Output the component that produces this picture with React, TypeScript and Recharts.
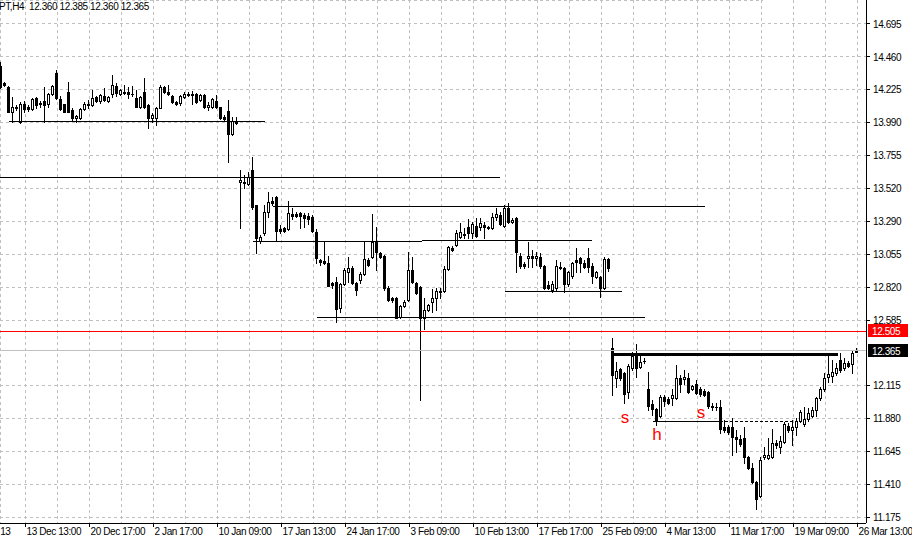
import React from 'react';
import {
  ComposedChart,
  Bar,
  XAxis,
  YAxis,
  CartesianGrid,
  ReferenceLine,
  ReferenceDot
} from 'recharts';

// H4 candles (oldest first)
const opens = [
  14.396, 14.274, 14.246, 14.068, 14.103, 13.996, 14.125, 14.103, 14.089, 14.167,
  14.132, 14.146, 14.125, 14.196, 14.346, 14.160, 14.125, 14.210, 14.082, 14.025,
  14.025, 14.089, 14.125, 14.118, 14.175, 14.146, 14.182, 14.146, 14.196, 14.253,
  14.196, 14.210, 14.210, 14.196, 14.167, 14.103, 14.210, 14.118, 14.025, 14.025,
  14.096, 14.246, 14.210, 14.182, 14.139, 14.132, 14.175, 14.196, 14.196, 14.196,
  14.153, 14.189, 14.103, 14.103, 14.146, 14.103, 14.032, 14.075, 13.911, 14.003,
  13.569, 13.569, 13.554, 13.654, 13.405, 13.148, 13.205, 13.355, 13.433, 13.462,
  13.234, 13.241, 13.234, 13.341, 13.341, 13.348, 13.333, 13.326, 13.319, 13.212,
  13.013, 13.006, 12.991, 12.849, 12.856, 12.670, 12.842, 12.927, 12.956, 12.849,
  12.870, 12.913, 13.013, 13.034, 13.141, 13.063, 13.041, 12.813, 12.742, 12.742,
  12.606, 12.685, 12.728, 12.941, 12.849, 12.820, 12.599, 12.656, 12.713, 12.742,
  12.785, 12.792, 12.949, 13.098, 13.120, 13.177, 13.198, 13.248, 13.205, 13.255,
  13.248, 13.262, 13.248, 13.241, 13.319, 13.333, 13.255, 13.383, 13.284, 13.312,
  13.041, 12.984, 13.027, 13.041, 13.027, 13.034, 12.970, 12.835, 12.799, 12.813,
  12.963, 12.956, 12.842, 12.899, 13.013, 13.027, 12.991, 13.027, 12.970, 12.892,
  12.892, 12.813, 13.020, 12.385, 12.172, 12.236, 12.207, 12.072, 12.243, 12.329,
  12.250, 12.293, 12.093, 11.986, 11.951, 11.901, 12.036, 12.022, 12.029, 12.029,
  12.172, 12.164, 12.172, 12.093, 12.129, 12.093, 12.079, 12.072, 11.972, 11.965,
  11.965, 11.822, 11.822, 11.822, 11.751, 11.737, 11.744, 11.609, 11.530, 11.430,
  11.330, 11.609, 11.601, 11.609, 11.708, 11.680, 11.715, 11.829, 11.801, 11.822,
  11.865, 11.844, 11.879, 11.901, 11.943, 12.029, 12.093, 12.179, 12.186, 12.207,
  12.300, 12.243, 12.279, 12.271, 12.360
];

const highs = [
  14.424, 14.282, 14.250, 14.175, 14.118, 14.139, 14.146, 14.118, 14.167, 14.175,
  14.146, 14.246, 14.203, 14.260, 14.367, 14.182, 14.128, 14.282, 14.096, 14.046,
  14.096, 14.139, 14.153, 14.225, 14.182, 14.196, 14.239, 14.182, 14.331, 14.274,
  14.232, 14.260, 14.246, 14.253, 14.225, 14.182, 14.310, 14.125, 14.061, 14.103,
  14.260, 14.253, 14.260, 14.189, 14.146, 14.189, 14.210, 14.210, 14.217, 14.203,
  14.196, 14.196, 14.139, 14.167, 14.189, 14.106, 14.046, 14.153, 14.032, 14.032,
  13.654, 13.619, 13.640, 13.747, 13.408, 13.191, 13.405, 13.497, 13.462, 13.469,
  13.262, 13.248, 13.433, 13.383, 13.355, 13.355, 13.348, 13.348, 13.333, 13.234,
  13.020, 13.148, 13.041, 12.856, 12.892, 12.849, 12.956, 13.034, 12.970, 12.856,
  12.927, 13.141, 13.027, 13.341, 13.248, 13.070, 13.048, 12.827, 12.749, 12.749,
  12.692, 12.728, 13.070, 13.034, 12.856, 12.827, 12.742, 12.699, 12.806, 12.813,
  12.813, 12.970, 13.113, 13.113, 13.226, 13.276, 13.241, 13.305, 13.284, 13.312,
  13.312, 13.284, 13.255, 13.348, 13.383, 13.355, 13.405, 13.419, 13.312, 13.319,
  13.063, 12.998, 13.141, 13.084, 13.070, 13.063, 12.977, 12.863, 12.863, 13.013,
  12.998, 12.963, 12.934, 12.998, 13.098, 13.034, 13.013, 13.098, 12.991, 12.934,
  12.899, 13.034, 13.027, 12.457, 12.286, 12.243, 12.214, 12.271, 12.357, 12.414,
  12.336, 12.314, 12.214, 12.015, 11.958, 12.050, 12.050, 12.036, 12.093, 12.264,
  12.193, 12.229, 12.207, 12.122, 12.157, 12.107, 12.093, 12.079, 11.993, 11.993,
  12.015, 11.872, 11.837, 11.887, 11.801, 11.765, 11.822, 11.616, 11.566, 11.437,
  11.609, 11.680, 11.744, 11.808, 11.730, 11.758, 11.858, 11.851, 11.872, 11.887,
  11.943, 11.965, 11.958, 11.965, 12.036, 12.107, 12.207, 12.336, 12.300, 12.279,
  12.350, 12.314, 12.293, 12.371, 12.385
];

const lows = [
  14.239, 14.253, 14.065, 13.996, 14.082, 13.989, 14.068, 14.075, 14.082, 14.096,
  14.103, 13.996, 14.103, 14.189, 14.160, 14.082, 14.068, 14.065, 14.011, 13.996,
  14.018, 14.082, 14.096, 14.110, 14.139, 14.132, 14.146, 14.139, 14.175, 14.182,
  14.189, 14.196, 14.167, 14.182, 14.100, 14.096, 14.096, 13.954, 13.996, 13.975,
  14.093, 14.203, 14.189, 14.132, 14.118, 14.118, 14.167, 14.182, 14.125, 14.132,
  14.146, 14.096, 14.082, 14.096, 14.096, 14.018, 14.003, 13.711, 13.904, 13.982,
  13.241, 13.526, 13.547, 13.376, 13.063, 13.134, 13.191, 13.319, 13.405, 13.148,
  13.205, 13.212, 13.226, 13.305, 13.319, 13.241, 13.248, 13.269, 13.212, 12.991,
  12.977, 12.984, 12.824, 12.813, 12.571, 12.642, 12.835, 12.856, 12.842, 12.763,
  12.849, 12.906, 12.970, 13.027, 12.941, 13.027, 12.799, 12.720, 12.713, 12.596,
  12.599, 12.678, 12.720, 12.849, 12.770, 12.015, 12.521, 12.649, 12.642, 12.656,
  12.742, 12.785, 12.941, 13.077, 13.113, 13.169, 13.169, 13.169, 13.169, 13.177,
  13.226, 13.169, 13.234, 13.234, 13.298, 13.262, 13.248, 13.276, 13.276, 12.927,
  12.956, 12.956, 12.963, 12.963, 12.977, 12.956, 12.806, 12.806, 12.785, 12.799,
  12.949, 12.785, 12.827, 12.884, 12.927, 12.927, 12.956, 12.927, 12.849, 12.884,
  12.749, 12.806, 12.934, 12.050, 12.107, 12.157, 11.993, 12.029, 12.229, 12.179,
  12.243, 12.279, 11.943, 11.908, 11.837, 11.894, 11.972, 11.986, 11.979, 12.022,
  12.072, 12.129, 12.065, 12.086, 12.058, 12.043, 12.043, 11.958, 11.943, 11.943,
  11.780, 11.787, 11.772, 11.623, 11.644, 11.687, 11.566, 11.523, 11.423, 11.238,
  11.323, 11.594, 11.594, 11.601, 11.673, 11.637, 11.708, 11.787, 11.694, 11.765,
  11.858, 11.829, 11.865, 11.894, 11.901, 12.015, 12.079, 12.143, 12.143, 12.193,
  12.214, 12.229, 12.250, 12.207, 12.360
];

const closes = [
  14.246, 14.260, 14.068, 14.103, 14.096, 14.125, 14.089, 14.089, 14.160, 14.118,
  14.125, 14.118, 14.196, 14.253, 14.167, 14.089, 14.068, 14.068, 14.025, 14.039,
  14.089, 14.125, 14.118, 14.167, 14.146, 14.189, 14.153, 14.175, 14.260, 14.203,
  14.225, 14.203, 14.196, 14.193, 14.103, 14.175, 14.103, 14.025, 14.046, 14.096,
  14.246, 14.210, 14.196, 14.139, 14.125, 14.182, 14.196, 14.189, 14.189, 14.139,
  14.189, 14.103, 14.118, 14.160, 14.103, 14.025, 14.018, 13.911, 14.003, 13.989,
  13.583, 13.562, 13.604, 13.391, 13.169, 13.177, 13.355, 13.426, 13.419, 13.219,
  13.219, 13.219, 13.348, 13.326, 13.326, 13.326, 13.312, 13.305, 13.219, 13.027,
  12.998, 12.991, 12.827, 12.835, 12.663, 12.842, 12.941, 12.956, 12.849, 12.799,
  12.913, 13.020, 12.977, 13.141, 13.070, 13.034, 12.813, 12.728, 12.728, 12.599,
  12.685, 12.713, 12.941, 12.856, 12.777, 12.599, 12.656, 12.692, 12.742, 12.792,
  12.792, 12.949, 13.105, 13.084, 13.205, 13.212, 13.191, 13.205, 13.269, 13.184,
  13.276, 13.248, 13.241, 13.319, 13.341, 13.269, 13.383, 13.284, 13.298, 13.070,
  12.970, 12.970, 13.041, 13.027, 13.041, 12.970, 12.813, 12.813, 12.842, 12.970,
  12.956, 12.842, 12.927, 12.991, 12.998, 12.991, 12.963, 12.963, 12.899, 12.927,
  12.813, 13.020, 12.956, 12.193, 12.221, 12.172, 12.058, 12.257, 12.329, 12.243,
  12.286, 12.290, 11.972, 11.951, 11.865, 12.036, 12.008, 11.993, 12.050, 12.172,
  12.129, 12.179, 12.072, 12.115, 12.065, 12.058, 12.050, 11.972, 11.965, 11.962,
  11.808, 11.801, 11.787, 11.751, 11.737, 11.701, 11.609, 11.530, 11.430, 11.309,
  11.587, 11.623, 11.623, 11.708, 11.694, 11.722, 11.844, 11.801, 11.822, 11.865,
  11.929, 11.879, 11.922, 11.943, 12.029, 12.093, 12.172, 12.200, 12.214, 12.243,
  12.229, 12.279, 12.257, 12.350, 12.365
];

const priceTicks = [
  14.695, 14.46, 14.225, 13.99, 13.755, 13.52, 13.29, 13.055,
  12.82, 12.585, 12.115, 11.88, 11.645, 11.41, 11.175
];

const dateLabels = [
  '13 Dec 13:00', '20 Dec 17:00', '2 Jan 17:00', '10 Jan 09:00', '17 Jan 13:00',
  '24 Jan 17:00', '3 Feb 09:00', '10 Feb 13:00', '17 Feb 17:00', '25 Feb 09:00',
  '4 Mar 13:00', '11 Mar 17:00', '19 Mar 09:00', '26 Mar 13:00'
];
const dateLabelBars = [6, 22, 38, 54, 70, 86, 102, 118, 134, 150, 166, 182, 198, 214];

// horizontal levels drawn on the chart: [fromBar, toBar, price]
const levelFrom = [2, -0.25, 68, 63, 105.25, 126, 79];
const levelTo = [66, 124.75, 176, 105.25, 147.75, 155.25, 161];
const levelPrice = [14.003, 13.601, 13.391, 13.148, 13.155, 12.785, 12.6];

const neckline = { from: 153, to: 209.25, price: 12.336 };
const shoulderLow = { from: 163, to: 179.75, dashedTo: 198, price: 11.865 };

const patternLetters = ['s', 'h', 's'];
const patternBars = [156, 164, 175];
const patternPrices = [11.887, 11.772, 11.929];

const askPrice = 12.505;
const bidPrice = 12.365;

const FONT = '"Liberation Sans", Arial, sans-serif';

const candles = opens.map((o, i) => ({
  bar: i,
  open: o,
  high: highs[i],
  low: lows[i],
  close: closes[i],
  range: [lows[i], highs[i]]
}));

const gridBars: number[] = [];
dateLabelBars.forEach((b, k) => {
  gridBars.push(b);
  if (k < dateLabelBars.length - 1) gridBars.push(b + 8);
});

const Candle = (props: any) => {
  const { x, y, width, height, payload } = props;
  const { open, close, high, low } = payload;
  const top = Math.min(y, y + height);
  const h = Math.abs(height);
  const cx = Math.floor(x + width / 2) + 0.5;
  const span = high - low;
  const toY = (v: number) => (span > 0 ? top + ((high - v) / span) * h : top);
  const yo = Math.round(toY(open));
  const yc = Math.round(toY(close));
  const bt = Math.min(yo, yc);
  const bb = Math.max(yo, yc);
  const up = close >= open;
  return (
    <g shapeRendering="crispEdges">
      <line x1={cx} x2={cx} y1={Math.round(top)} y2={Math.round(top + h) + 1} stroke="#000" strokeWidth={1} />
      {up ? (
        <rect x={cx - 1} y={bt + 0.5} width={2} height={Math.max(bb - bt, 1)} fill="#fff" stroke="#000" strokeWidth={1} />
      ) : (
        <rect x={cx - 1.5} y={bt} width={3} height={Math.max(bb - bt + 1, 1)} fill="#000" />
      )}
    </g>
  );
};

// crisp horizontal line drawn at the position Recharts computes
const flatLine = (color: string, width = 1, dash?: string) => (p: any) => {
  const y = width % 2 === 1 ? Math.floor(p.y1) + 0.5 : Math.round(p.y1);
  return (
    <line
      x1={p.x1}
      x2={p.x2}
      y1={y}
      y2={y}
      stroke={color}
      strokeWidth={width}
      strokeDasharray={dash}
      shapeRendering="crispEdges"
    />
  );
};

const DateTick = (props: any) => {
  const { x, payload } = props;
  const k = dateLabelBars.indexOf(payload.value);
  if (k < 0) return null;
  const px = Math.floor(x) + 0.5;
  return (
    <g>
      <line x1={px} x2={px} y1={523} y2={527} stroke="#000" shapeRendering="crispEdges" />
      <text x={px + 1} y={535} fontSize={10} fontFamily={FONT} fill="#000" style={{ letterSpacing: '-0.4px' }}>
        {dateLabels[k]}
      </text>
      {k === 0 && (
        <text x={px - 15} y={535} fontSize={10} fontFamily={FONT} fill="#000" textAnchor="end" style={{ letterSpacing: '-0.4px' }}>
          13
        </text>
      )}
    </g>
  );
};

const PriceTag = ({ viewBox, text, bg }: any) => {
  if (!viewBox) return null;
  const x = viewBox.x + viewBox.width + 2;
  const y = Math.round(viewBox.y);
  return (
    <g>
      <rect x={x} y={y - 7} width={40} height={13} fill={bg} />
      <text x={x + 4} y={y + 3.5} fontSize={10} fontFamily={FONT} fill="#fff" style={{ letterSpacing: '-0.4px' }}>
        {text}
      </text>
    </g>
  );
};

const Letter = (props: any) => (
  <text
    x={props.cx}
    y={props.cy}
    textAnchor="middle"
    dominantBaseline="central"
    fontSize={17}
    fontFamily={FONT}
    fill="#ff0000"
  >
    {props.letter}
  </text>
);

export default function App() {
  return (
    <div style={{ position: 'absolute', left: 0, top: 0, width: 912, height: 539, background: '#fff', overflow: 'hidden' }}>
      <ComposedChart width={912} height={539} data={candles} margin={{ top: 0, right: 0, bottom: 0, left: 0 }}>
        <CartesianGrid stroke="#c0c0c0" strokeDasharray="3 3" shapeRendering="crispEdges" />
        <XAxis
          dataKey="bar"
          type="number"
          domain={[-0.25, 216.25]}
          allowDataOverflow
          ticks={gridBars}
          interval={0}
          height={16}
          tickLine={false}
          tickSize={0}
          axisLine={{ stroke: '#000', shapeRendering: 'crispEdges' }}
          tick={<DateTick />}
        />
        <YAxis
          orientation="right"
          type="number"
          domain={[11.138, 14.866]}
          allowDataOverflow
          ticks={priceTicks}
          interval={0}
          width={46}
          tickSize={4}
          tickMargin={3}
          axisLine={{ stroke: '#000', shapeRendering: 'crispEdges' }}
          tickLine={{ stroke: '#000', shapeRendering: 'crispEdges' }}
          tickFormatter={(v: number) => v.toFixed(3)}
          tick={{ fontSize: 10, fill: '#000', fontFamily: FONT, style: { letterSpacing: '-0.4px' } }}
        />
        <ReferenceLine
          y={bidPrice}
          shape={flatLine('#c0c0c0')}
          label={<PriceTag text={bidPrice.toFixed(3)} bg="#000" />}
        />
        <ReferenceLine
          y={askPrice}
          shape={flatLine('#ff0000')}
          label={<PriceTag text={askPrice.toFixed(3)} bg="#ff0000" />}
        />
        {levelPrice.map((p, k) => (
          <ReferenceLine
            key={`lvl-${k}`}
            segment={[{ x: levelFrom[k], y: p }, { x: levelTo[k], y: p }]}
            shape={flatLine('#000')}
            ifOverflow="visible"
          />
        ))}
        <ReferenceLine
          segment={[{ x: neckline.from, y: neckline.price }, { x: neckline.to, y: neckline.price }]}
          shape={flatLine('#000', 3)}
          ifOverflow="visible"
        />
        <ReferenceLine
          segment={[{ x: shoulderLow.from, y: shoulderLow.price }, { x: shoulderLow.to, y: shoulderLow.price }]}
          shape={flatLine('#000')}
          ifOverflow="visible"
        />
        <ReferenceLine
          segment={[{ x: shoulderLow.to, y: shoulderLow.price }, { x: shoulderLow.dashedTo, y: shoulderLow.price }]}
          shape={flatLine('#000', 1, '3 2')}
          ifOverflow="visible"
        />
        <Bar dataKey="range" barSize={3} shape={<Candle />} isAnimationActive={false} />
        {patternLetters.map((t, k) => (
          <ReferenceDot
            key={`pat-${k}`}
            x={patternBars[k]}
            y={patternPrices[k]}
            r={0}
            ifOverflow="visible"
            shape={(p: any) => <Letter {...p} letter={t} />}
          />
        ))}
      </ComposedChart>
      <div
        style={{
          position: 'absolute',
          left: -1,
          top: 1,
          fontFamily: FONT,
          fontSize: 10,
          lineHeight: '12px',
          letterSpacing: '-0.4px',
          whiteSpace: 'pre',
          color: '#000'
        }}
      >
        {'PT,H4  12.360 12.385 12.360 12.365'}
      </div>
    </div>
  );
}
